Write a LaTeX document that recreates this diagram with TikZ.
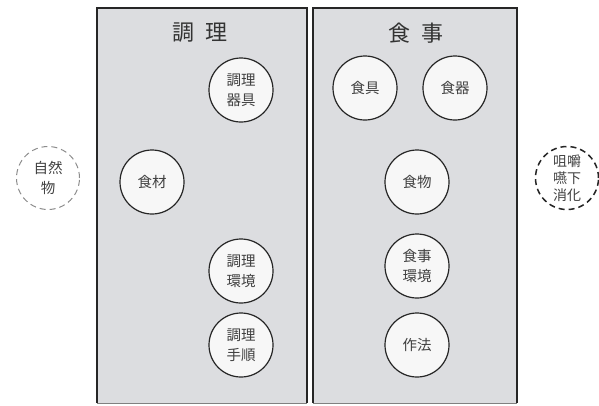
\documentclass[tikz,border=0pt]{standalone}
\usepackage{fontspec}
\setmainfont{Noto Sans CJK JP}
\begin{document}
\begin{tikzpicture}[x=1pt,y=-1pt,
  item/.style={circle,draw=black!85,line width=1.2pt,fill=white!97!black,minimum size=64pt,inner sep=0pt,align=center,font=\fontsize{14.5}{20}\selectfont,text=black!75},
  outer/.style={circle,dashed,dash pattern=on 6pt off 4pt,minimum size=63pt,inner sep=0pt,align=center,font=\fontsize{14.5}{20}\selectfont,text=black!75},
  ttl/.style={font=\fontsize{22}{26}\selectfont,text=black!80}]
\definecolor{panelgray}{HTML}{DCDDE0}
\useasboundingbox (0,0) rectangle (599,405);
% panels
\fill[panelgray] (97,8) rectangle (307,403);
\fill[panelgray] (313,8) rectangle (517,403);
\draw[line width=1.4pt,black!85] (97,403) -- (97,8) -- (307,8) -- (307,403);
\draw[line width=1.4pt,black!85] (313,403) -- (313,8) -- (517,8) -- (517,403);
\draw[line width=0.8pt,black!50] (97,403) -- (307,403);
\draw[line width=0.8pt,black!50] (313,403) -- (517,403);
% titles
\node[ttl] (t1) at (200,33) {調\hspace{0.5em}理};
\node[ttl] (t2) at (416,33) {食\hspace{0.5em}事};
% left panel items
\node[item] (kigu) at (241,90) {調理\\器具};
\node[item] (zai) at (152,182) {食材};
\node[item] (kank) at (241,271) {調理\\環境};
\node[item] (tejun) at (241,345) {調理\\手順};
% right panel items
\node[item] (shokugu) at (365,88) {食具};
\node[item] (shokki) at (455,88) {食器};
\node[item] (mono) at (417,182) {食物};
\node[item] (shkank) at (417,266) {食事\\環境};
\node[item] (saho) at (417,345) {作法};
% outer
\node[outer,draw=black!45,line width=1pt] (shizen) at (48,178) {自然\\物};
\node[outer,draw=black!85,line width=1.5pt,font=\fontsize{14}{17}\selectfont] (soshaku) at (567,178) {咀嚼\\嚥下\\消化};
\end{tikzpicture}
\end{document}
